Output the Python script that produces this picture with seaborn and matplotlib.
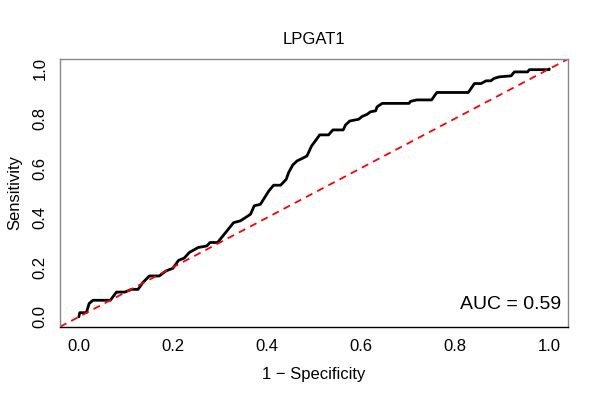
import numpy as np
import pandas as pd
import matplotlib
matplotlib.use("Agg")
import matplotlib.pyplot as plt
import seaborn as sns

# ROC curve points (1 - specificity, sensitivity)
fpr = [0.0, 0.002, 0.016, 0.022, 0.03, 0.067, 0.08, 0.098, 0.112, 0.126, 0.136,
       0.15, 0.171, 0.185, 0.20, 0.212, 0.224, 0.235, 0.254, 0.272, 0.279, 0.295,
       0.329, 0.343, 0.354, 0.365, 0.373, 0.386, 0.393, 0.404, 0.414, 0.429,
       0.441, 0.446, 0.455, 0.464, 0.476, 0.485, 0.495, 0.503, 0.512, 0.531,
       0.54, 0.562, 0.567, 0.576, 0.595, 0.602, 0.613, 0.62, 0.631, 0.634,
       0.645, 0.702, 0.705, 0.718, 0.75, 0.761, 0.828, 0.841, 0.855, 0.866,
       0.876, 0.883, 0.894, 0.919, 0.926, 0.954, 0.958, 1.0, 1.0]
tpr = [0.0, 0.017, 0.017, 0.054, 0.067, 0.067, 0.10, 0.10, 0.111, 0.111, 0.138,
       0.165, 0.165, 0.185, 0.196, 0.228, 0.237, 0.26, 0.28, 0.286, 0.30, 0.30,
       0.38, 0.387, 0.40, 0.414, 0.448, 0.454, 0.475, 0.508, 0.531, 0.531,
       0.555, 0.582, 0.613, 0.629, 0.64, 0.649, 0.69, 0.71, 0.734, 0.734,
       0.754, 0.754, 0.774, 0.79, 0.797, 0.808, 0.817, 0.827, 0.831, 0.847,
       0.861, 0.861, 0.869, 0.875, 0.875, 0.905, 0.905, 0.941, 0.941, 0.952,
       0.952, 0.962, 0.968, 0.972, 0.988, 0.988, 0.997, 0.997, 1.0]
ticks = [0.0, 0.2, 0.4, 0.6, 0.8, 1.0]
title = "LPGAT1"
auc_label = "AUC = 0.59"

df = pd.DataFrame({"fpr": fpr, "tpr": tpr})

sns.set_style("white")
plt.rcParams["font.family"] = ["Liberation Sans", "DejaVu Sans"]
plt.rcParams["text.color"] = "black"
plt.rcParams["axes.labelcolor"] = "black"
plt.rcParams["xtick.color"] = "black"
plt.rcParams["ytick.color"] = "black"

fig = plt.figure(figsize=(6, 4), dpi=100)
ax = fig.add_axes([0.1, 0.183, 0.8467, 0.6695])

sns.lineplot(data=df, x="fpr", y="tpr", sort=False, estimator=None,
             color="black", linewidth=2.0, ax=ax)
ax.axline((0, 0), slope=1, color="red", linestyle=(0, (4, 3)), linewidth=1.3)

ax.set_xlim(-0.04, 1.04)
ax.set_ylim(-0.04, 1.04)
ax.set_xticks(ticks)
ax.set_yticks(ticks)
ax.set_xticklabels([f"{t:.1f}" for t in ticks], fontsize=12)
ax.set_yticklabels([f"{t:.1f}" for t in ticks], fontsize=12, rotation=90, va="center")
ax.tick_params(direction="out", length=5, width=0.8, color="#555555", pad=4)

for side in ["top", "right", "left"]:
    ax.spines[side].set_color("#888888")
    ax.spines[side].set_linewidth(1.0)
ax.spines["bottom"].set_color("black")
ax.spines["bottom"].set_linewidth(1.0)

ax.set_xlabel("1 \u2212 Specificity", fontsize=12, labelpad=9)
ax.set_ylabel("Sensitivity", fontsize=12, labelpad=7)
ax.set_title(title, fontsize=12, pad=11)
ax.text(1.025, 0.05, auc_label, ha="right", va="center", fontsize=14)

fig.savefig("out.png", dpi=100)
